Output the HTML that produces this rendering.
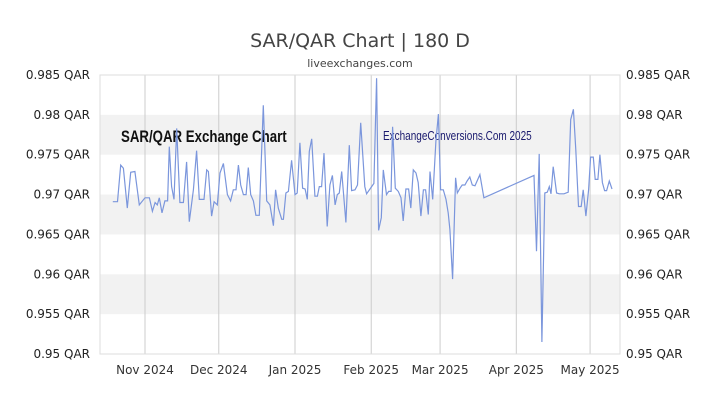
<!DOCTYPE html>
<html><head><meta charset="utf-8"><style>
body{margin:0;background:#fff;width:720px;height:405px;overflow:hidden;font-family:"Liberation Sans","DejaVu Sans",sans-serif}
svg text{font-family:"DejaVu Sans","Liberation Sans",sans-serif}
</style></head><body>
<svg id="chart" width="720" height="405" viewBox="0 0 720 405">
<text x="360" y="47" text-anchor="middle" font-size="19" fill="#444">SAR/QAR Chart | 180 D</text>
<text x="360" y="67" text-anchor="middle" font-size="11" fill="#444">liveexchanges.com</text>
<g id="bands"></g><g id="grid"></g>
<text x="121" y="142" font-size="17" font-weight="bold" fill="#111" transform="translate(121 0) scale(0.78 1) translate(-121 0)" style="font-family:'Liberation Sans Narrow','Liberation Sans',sans-serif">SAR/QAR Exchange Chart</text>
<text x="383" y="140" font-size="12.5" fill="#1a1a6e" transform="translate(383 0) scale(0.8 1) translate(-383 0)" style="font-family:'Liberation Sans Narrow','Liberation Sans',sans-serif">ExchangeConversions.Com 2025</text>
<g id="axes"></g>
<path id="line" fill="none" stroke="#7b96dc" stroke-width="1.2"></path>
</svg>
<script>
const days=[17.9,19.8,21.1,22.2,23.8,25.2,26.9,28.7,31.0,32.8,34.0,35.1,36.0,36.8,37.9,39.1,40.2,40.9,41.8,42.8,43.9,45.2,46.6,47.9,49.0,50.7,52.0,53.1,55.0,56.1,56.8,58.1,59.1,60.4,61.5,62.9,64.5,65.8,66.9,68.0,69.0,69.9,71.0,72.1,73.0,74.0,75.1,76.1,77.5,79.1,80.5,81.8,83.2,84.1,85.2,86.6,87.3,88.3,89.3,90.6,92.0,92.9,94.0,95.1,96.1,97.0,97.8,98.8,100.1,101.1,101.9,102.8,103.8,105.1,106.2,107.2,108.3,109.2,110.0,111.0,112.7,114.1,115.0,116.4,117.4,118.7,120.4,121.1,124.1,125.2,126.0,127.1,127.9,129.2,130.1,131.1,131.7,132.8,134.0,135.1,136.0,137.1,138.2,139.1,140.1,141.2,142.1,143.2,144.2,145.1,146.2,146.9,148.0,149.3,150.3,151.2,152.3,153.4,154.3,155.0,156.1,157.3,158.0,159.1,160.0,161.1,162.0,163.1,164.1,165.2,167.2,168.8,189.2,190.2,191.3,192.4,193.6,194.6,195.4,196.1,197.0,198.4,199.5,201.4,203.1,204.1,205.2,206.2,207.3,208.4,209.2,210.3,211.4,212.2,213.3,214.1,215.2,216.0,217.0,217.9,218.7,219.8,220.9];
const rates=[0.9691,0.9691,0.9737,0.9733,0.9683,0.9728,0.9729,0.9687,0.9696,0.9696,0.9679,0.9690,0.9687,0.9696,0.9677,0.9692,0.9692,0.9760,0.9710,0.9694,0.9783,0.9690,0.9690,0.9741,0.9666,0.9706,0.9755,0.9694,0.9694,0.9731,0.9729,0.9673,0.9691,0.9687,0.9727,0.9739,0.9700,0.9692,0.9706,0.9706,0.9737,0.9712,0.9700,0.9700,0.9734,0.9700,0.9692,0.9674,0.9674,0.9812,0.9692,0.9687,0.9661,0.9706,0.9683,0.9669,0.9669,0.9702,0.9704,0.9743,0.9700,0.9702,0.9765,0.9708,0.9707,0.9694,0.9754,0.9770,0.9698,0.9698,0.9710,0.9710,0.9752,0.9660,0.9712,0.9724,0.9687,0.9700,0.9702,0.9729,0.9665,0.9762,0.9705,0.9706,0.9712,0.9790,0.9710,0.9701,0.9714,0.9846,0.9655,0.9671,0.9731,0.9700,0.9704,0.9704,0.9785,0.9708,0.9704,0.9696,0.9667,0.9707,0.9707,0.9683,0.9731,0.9727,0.9715,0.9673,0.9706,0.9706,0.9675,0.9729,0.9694,0.9767,0.9801,0.9706,0.9706,0.9694,0.9677,0.9656,0.9594,0.9721,0.9702,0.9708,0.9712,0.9712,0.9717,0.9722,0.9712,0.9711,0.9725,0.9696,0.9724,0.9629,0.9751,0.9515,0.9702,0.9703,0.9710,0.9701,0.9735,0.9702,0.9701,0.9701,0.9703,0.9794,0.9807,0.9756,0.9685,0.9685,0.9706,0.9673,0.9706,0.9747,0.9747,0.9719,0.9719,0.9750,0.9715,0.9705,0.9705,0.9717,0.9707];
const monthLabels=["Nov 2024","Dec 2024","Jan 2025","Feb 2025","Mar 2025","Apr 2025","May 2025"];
const monthDays=[31,61,92,123,151,182,212];
const yTicks=[0.95,0.955,0.96,0.965,0.97,0.975,0.98,0.985];
const L=100,R=620,T=75,B=354,yMin=0.95,yMax=0.985;
const xs=d=>145+(d-31)*2.459;
const ys=v=>B-(v-yMin)/(yMax-yMin)*(B-T);
const NS="http://www.w3.org/2000/svg";
function mk(tag,attrs,parent){const e=document.createElementNS(NS,tag);for(const k in attrs)e.setAttribute(k,attrs[k]);document.getElementById(parent).appendChild(e);return e;}
for(let i=0;i<yTicks.length-1;i++){
  if(i%2===1){const b=mk('rect',{x:L,y:ys(yTicks[i+1]),width:R-L,height:ys(yTicks[i])-ys(yTicks[i+1]),fill:'#f2f2f2'},'bands');
  
  }
}
monthDays.forEach((d,i)=>{
  const g=mk('line',{x1:xs(d),x2:xs(d),y1:T,y2:B,stroke:'#ccc','stroke-width':1},'grid');
  
  
  const t=mk('text',{x:xs(d),y:374,'text-anchor':'middle','font-size':12,fill:'#333'},'axes');
  t.textContent=monthLabels[i];
  
  
});
const fr=mk('rect',{x:L,y:T,width:R-L,height:B-T,fill:'none',stroke:'#ddd'},'axes');


yTicks.forEach(v=>{
  const lab=String(v)+' QAR';
  const a=mk('text',{x:90,y:ys(v)+4,'text-anchor':'end','font-size':12,fill:'#222'},'axes');
  a.textContent=lab;
  
  
  const b=mk('text',{x:626,y:ys(v)+4,'text-anchor':'start','font-size':12,fill:'#222'},'axes');
  b.textContent=lab;
  
  
});
document.getElementById('line').setAttribute('d',days.map((d,i)=>(i?'L':'M')+xs(d).toFixed(1)+','+ys(rates[i]).toFixed(1)).join(''));
</script>
</body></html>
